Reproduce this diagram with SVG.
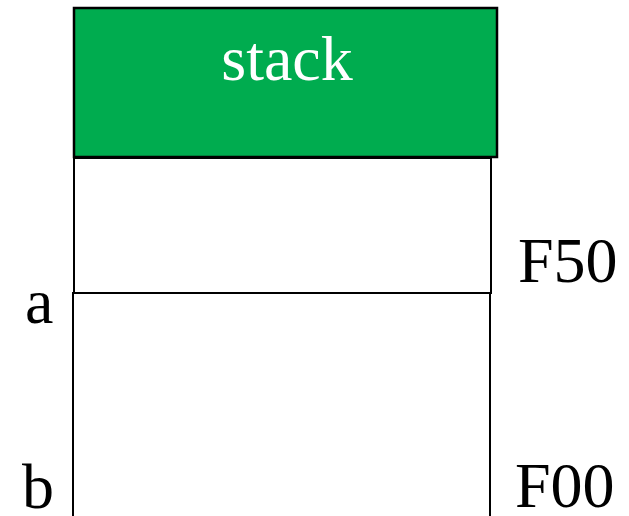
<svg xmlns="http://www.w3.org/2000/svg" width="629" height="516" viewBox="0 0 629 516">
<style>
.box{fill:#fff;stroke:#000;stroke-width:2}
.t{font-family:"Liberation Serif","Times New Roman",serif;font-size:64px;fill:#000}
</style>
<rect width="629" height="516" fill="#fff"/>
<g id="block3"><rect class="box" x="73" y="293" width="417" height="240"/></g>
<g id="block2"><rect class="box" x="74" y="158" width="417" height="135"/></g>
<g id="stack"><rect x="74" y="8" width="423" height="149" fill="#00ac4f" stroke="#000" stroke-width="2.5"/>
<text class="t" x="287" y="80" text-anchor="middle" style="fill:#fff">stack</text></g>
<g id="labels">
<text class="t" x="518" y="282">F50</text>
<text class="t" x="25" y="323">a</text>
<text class="t" x="22" y="508">b</text>
<text class="t" x="515" y="507">F00</text>
</g>
<g id="connectors"/>
</svg>
